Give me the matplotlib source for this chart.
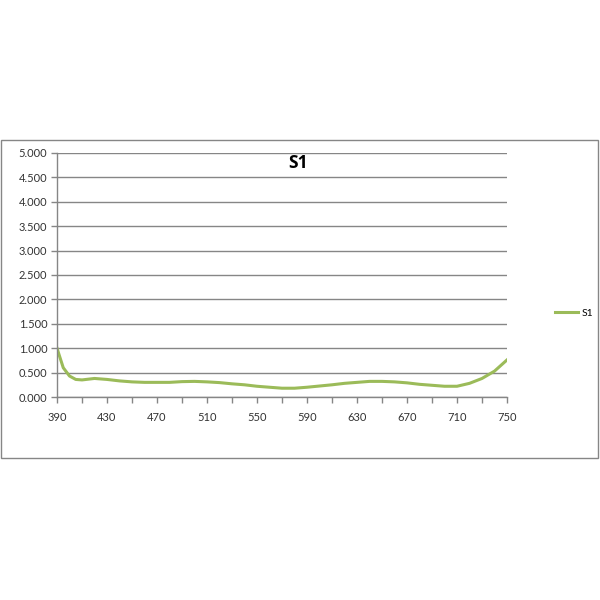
import matplotlib.pyplot as plt
import matplotlib.ticker as mticker
from matplotlib.patches import Rectangle

plt.rcParams['font.family'] = ['Lato', 'DejaVu Sans']

# comprimento de onda (nm) e valores da serie S1
comprimento = [390, 395, 400, 405, 410, 420, 430, 440, 450, 460, 470, 480, 490, 500,
               510, 520, 530, 540, 550, 560, 570, 580, 590, 600, 610, 620, 630, 640,
               650, 660, 670, 680, 690, 700, 710, 720, 730, 740, 750]
s1 = [1.0, 0.60, 0.43, 0.36, 0.35, 0.38, 0.36, 0.33, 0.31, 0.30, 0.30, 0.30, 0.315, 0.32,
      0.31, 0.295, 0.27, 0.25, 0.22, 0.20, 0.18, 0.18, 0.20, 0.225, 0.25, 0.28, 0.30, 0.32,
      0.32, 0.31, 0.29, 0.26, 0.24, 0.22, 0.22, 0.28, 0.38, 0.53, 0.76]
rotulos_x = [390, 430, 470, 510, 550, 590, 630, 670, 710, 750]
titulo = 'S1'

fig = plt.figure(figsize=(6, 6), dpi=100)
fig.patches.append(Rectangle((1 / 600, 1 - 458 / 600), 597 / 600, 318 / 600,
                             transform=fig.transFigure, fill=False,
                             edgecolor='#868686', linewidth=1))

ax = fig.add_axes([57 / 600, 1 - 397 / 600, 450 / 600, 244 / 600])
linha, = ax.plot(comprimento, s1, color='#9bbb59', linewidth=2.2, label='S1')

ax.set_xlim(390, 750)
ax.set_ylim(0, 5)
ax.yaxis.set_major_locator(mticker.MultipleLocator(0.5))
ax.yaxis.set_major_formatter(mticker.FormatStrFormatter('%.3f'))
ax.xaxis.set_major_locator(mticker.FixedLocator(rotulos_x))
ax.xaxis.set_minor_locator(mticker.FixedLocator([v + 20 for v in rotulos_x[:-1]]))
ax.grid(True, axis='y', color='#868686', linewidth=1)
ax.set_axisbelow(True)

for lado in ['top', 'right']:
    ax.spines[lado].set_visible(False)
for lado in ['left', 'bottom']:
    ax.spines[lado].set_color('#868686')
    ax.spines[lado].set_linewidth(1)

ax.tick_params(axis='both', which='both', color='#868686', length=4, width=1,
               labelsize=8, labelcolor='#333333')
ax.tick_params(axis='y', pad=3)
ax.tick_params(axis='x', pad=7)

fig.text(298 / 600, 1 - 163 / 600, titulo, fontsize=12.5, fontweight='bold',
         family=['Open Sans', 'DejaVu Sans'], ha='center', va='center', color='black')

fig.legend(handles=[linha], loc='center left', bbox_to_anchor=(546 / 600, 1 - 313 / 600),
           frameon=False, fontsize=7.5, handlelength=2.2, handletextpad=0.3)

fig.savefig('out.png', dpi=100)
